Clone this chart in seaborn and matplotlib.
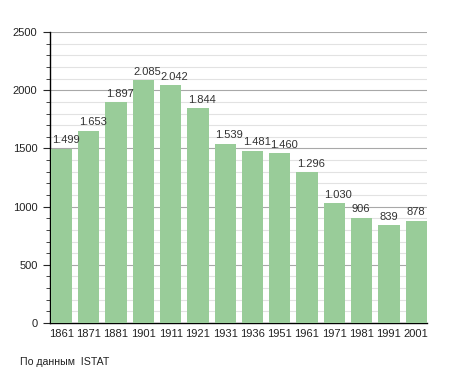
import matplotlib
matplotlib.use('Agg')
import matplotlib.pyplot as plt
from matplotlib.ticker import MultipleLocator
import seaborn as sns
import pandas as pd

# Population data (ISTAT)
years = ['1861', '1871', '1881', '1901', '1911', '1921', '1931',
         '1936', '1951', '1961', '1971', '1981', '1991', '2001']
population = [1499, 1653, 1897, 2085, 2042, 1844, 1539,
              1481, 1460, 1296, 1030, 906, 839, 878]
value_labels = ['1.499', '1.653', '1.897', '2.085', '2.042', '1.844', '1.539',
                '1.481', '1.460', '1.296', '1.030', '906', '839', '878']

df = pd.DataFrame({'year': years, 'pop': population})

sns.set_style('white')
plt.rcParams['font.family'] = ['Liberation Sans', 'DejaVu Sans']

fig = plt.figure(figsize=(4.55, 3.73), dpi=100)
ax = fig.add_axes([0.11, 0.134, 0.828, 0.78])

bar_w = 0.78
sns.barplot(data=df, x='year', y='pop', color='#99cc99', saturation=1,
            width=bar_w, linewidth=0, edgecolor='none', ax=ax, zorder=3)

ax.set_ylim(0, 2500)
ax.set_xlim(-0.42, 13.39)
ax.yaxis.set_major_locator(MultipleLocator(500))
ax.yaxis.set_minor_locator(MultipleLocator(100))
ax.grid(which='minor', axis='y', color='#e2e2e2', linewidth=0.8, zorder=0)
ax.grid(which='major', axis='y', color='#a8a8a8', linewidth=0.8, zorder=1)
ax.set_axisbelow(True)

for s in ['top', 'right']:
    ax.spines[s].set_visible(False)
ax.spines['left'].set_color('black')
ax.spines['bottom'].set_color('black')
ax.spines['left'].set_linewidth(1)
ax.spines['bottom'].set_linewidth(1)

ax.tick_params(axis='y', which='major', left=True, length=5, width=0.8,
               labelsize=8, pad=4, labelcolor='#222222')
ax.tick_params(axis='y', which='minor', left=True, length=3, width=0.6)
ax.tick_params(axis='x', bottom=False, labelsize=8, pad=1, labelcolor='#222222')
ax.set_xlabel('')
ax.set_ylabel('')

# value labels start at the left edge of each bar
for i, (v, lab) in enumerate(zip(population, value_labels)):
    ax.text(i - bar_w / 2 + 0.03, v + 30, lab, ha='left', va='bottom',
            fontsize=8, color='#333333')

fig.text(0.044, 0.03, 'По данным  ISTAT', fontsize=7.6, ha='left', va='center',
         color='#222222')

fig.savefig('out.png', dpi=100)
